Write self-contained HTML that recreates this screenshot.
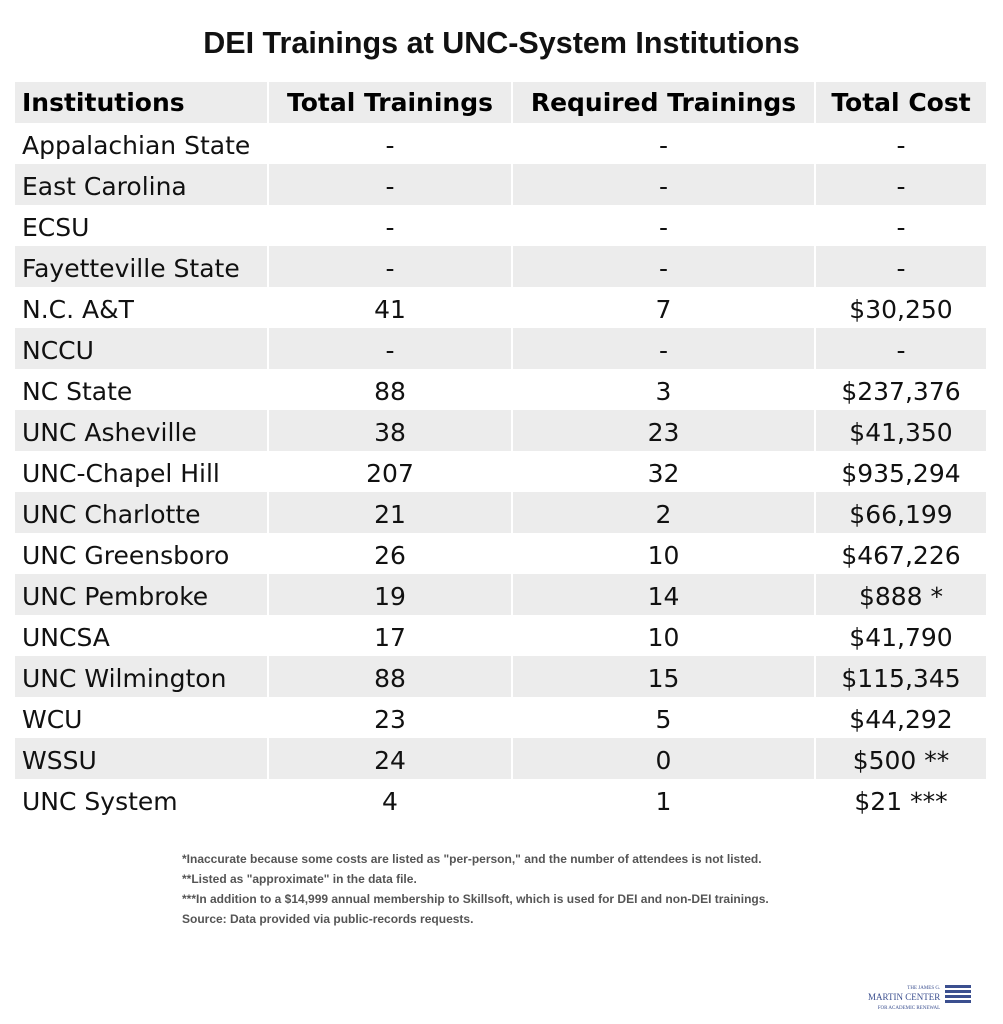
<!DOCTYPE html>
<html><head><meta charset="utf-8"><style>
body{margin:0;width:1003px;height:1024px;background:#fff;position:relative;font-family:"DejaVu Sans",sans-serif;overflow:hidden}
h1{position:absolute;top:26px;left:0;width:1003px;text-align:center;margin:0;font:bold 30.5px "Liberation Sans",sans-serif;color:#111}
table{position:absolute;left:15px;top:82px;border-collapse:collapse;width:971px;table-layout:fixed}
tr{height:41px}
td{height:41px;padding:0;font-size:25px;color:#111;border-left:2px solid #fff;line-height:41px;white-space:nowrap;overflow:hidden}
td span{position:relative;top:2px}
td:first-child{padding-left:7px;border-left:none}
tr:nth-child(odd) td{background:#ececec}
th{height:41px;background:#ececec;font-size:25px;font-weight:bold;text-align:center;border-left:2px solid #fff;padding:0;white-space:nowrap;line-height:41px}
th:first-child{text-align:left;padding-left:7px;border-left:none}
td.c{text-align:center}
.fn{position:absolute;left:182px;top:849px;font:bold 12px "Liberation Sans",sans-serif;color:#555;line-height:20px}
.logo{position:absolute;left:868px;top:982px;font:9px "Liberation Serif",serif;color:#3b4f8f;line-height:9px;text-align:right}
</style></head><body>
<h1>DEI Trainings at UNC-System Institutions</h1>
<table>
<colgroup><col style="width:253px"><col style="width:244px"><col style="width:303px"><col style="width:171px"></colgroup>
<tr><th>Institutions</th><th>Total Trainings</th><th>Required Trainings</th><th>Total Cost</th></tr>
<tr><td><span>Appalachian State</span></td><td class="c"><span>-</span></td><td class="c"><span>-</span></td><td class="c"><span>-</span></td></tr>
<tr><td><span>East Carolina</span></td><td class="c"><span>-</span></td><td class="c"><span>-</span></td><td class="c"><span>-</span></td></tr>
<tr><td><span>ECSU</span></td><td class="c"><span>-</span></td><td class="c"><span>-</span></td><td class="c"><span>-</span></td></tr>
<tr><td><span>Fayetteville State</span></td><td class="c"><span>-</span></td><td class="c"><span>-</span></td><td class="c"><span>-</span></td></tr>
<tr><td><span>N.C. A&amp;T</span></td><td class="c"><span>41</span></td><td class="c"><span>7</span></td><td class="c"><span>$30,250</span></td></tr>
<tr><td><span>NCCU</span></td><td class="c"><span>-</span></td><td class="c"><span>-</span></td><td class="c"><span>-</span></td></tr>
<tr><td><span>NC State</span></td><td class="c"><span>88</span></td><td class="c"><span>3</span></td><td class="c"><span>$237,376</span></td></tr>
<tr><td><span>UNC Asheville</span></td><td class="c"><span>38</span></td><td class="c"><span>23</span></td><td class="c"><span>$41,350</span></td></tr>
<tr><td><span>UNC-Chapel Hill</span></td><td class="c"><span>207</span></td><td class="c"><span>32</span></td><td class="c"><span>$935,294</span></td></tr>
<tr><td><span>UNC Charlotte</span></td><td class="c"><span>21</span></td><td class="c"><span>2</span></td><td class="c"><span>$66,199</span></td></tr>
<tr><td><span>UNC Greensboro</span></td><td class="c"><span>26</span></td><td class="c"><span>10</span></td><td class="c"><span>$467,226</span></td></tr>
<tr><td><span>UNC Pembroke</span></td><td class="c"><span>19</span></td><td class="c"><span>14</span></td><td class="c"><span>$888 *</span></td></tr>
<tr><td><span>UNCSA</span></td><td class="c"><span>17</span></td><td class="c"><span>10</span></td><td class="c"><span>$41,790</span></td></tr>
<tr><td><span>UNC Wilmington</span></td><td class="c"><span>88</span></td><td class="c"><span>15</span></td><td class="c"><span>$115,345</span></td></tr>
<tr><td><span>WCU</span></td><td class="c"><span>23</span></td><td class="c"><span>5</span></td><td class="c"><span>$44,292</span></td></tr>
<tr><td><span>WSSU</span></td><td class="c"><span>24</span></td><td class="c"><span>0</span></td><td class="c"><span>$500 **</span></td></tr>
<tr><td><span>UNC System</span></td><td class="c"><span>4</span></td><td class="c"><span>1</span></td><td class="c"><span>$21 ***</span></td></tr>
</table>
<div class="fn">*Inaccurate because some costs are listed as "per-person," and the number of attendees is not listed.<br>**Listed as "approximate" in the data file.<br>***In addition to a $14,999 annual membership to Skillsoft, which is used for DEI and non-DEI trainings.<br>Source: Data provided via public-records requests.</div>
<div class="logo"><span style="font-size:5px">THE JAMES G.</span><br>MARTIN CENTER<br><span style="font-size:5px">FOR ACADEMIC RENEWAL</span></div>
<div style="position:absolute;left:945px;top:985px;width:26px;height:20px;background:repeating-linear-gradient(#3b4f8f 0 3px,#fff 3px 5px)"></div>
</body></html>
